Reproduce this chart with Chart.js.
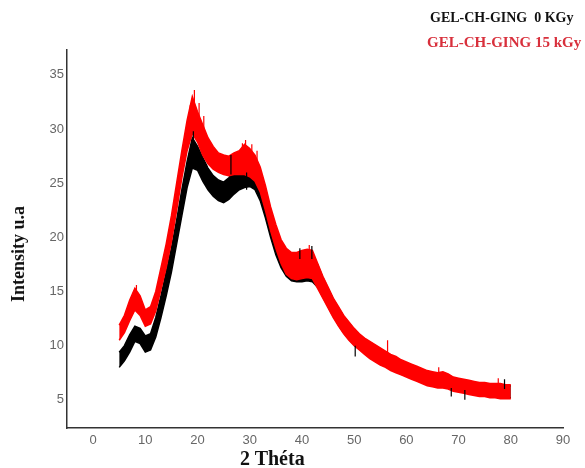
<!DOCTYPE html>
<html>
<head>
<meta charset="utf-8">
<script src="https://cdn.jsdelivr.net/npm/chart.js"></script>
<style>
  body { margin: 0; background: #fff; }
  #wrap { position: relative; width: 585px; height: 468px; overflow: hidden; }
  .txt { position: absolute; font-family: "Liberation Serif", "Times New Roman", serif; font-weight: bold; white-space: nowrap; line-height: 1; }
</style>
</head>
<body>
<div id="wrap">
  <canvas id="xrd" width="585" height="468"></canvas>
  <div class="txt" style="left:430px;top:11px;font-size:14px;color:#111">GEL-CH-GING&nbsp; 0 KGy</div>
  <div class="txt" style="left:427px;top:35px;font-size:15px;color:#d8303c">GEL-CH-GING 15 kGy</div>
  <div class="txt" id="ytitle" style="font-size:18px;color:#111">Intensity u.a</div>
  <div class="txt" style="left:240px;top:448px;font-size:20px;color:#111">2 Théta</div>
</div>
<script>
// 2θ positions (degrees)
const theta = [5,6,7,8,9,10,11,12,13,14,15,16,17,18,19,20,21,22,23,24,25,26,27,28,29,30,
  31,32,33,34,35,36,37,38,39,40,41,42,43,44,45,46,47,48,49,50,51,52,53,54,55,56,57,58,59,60,
  61,62,63,64,65,66,67,68,69,70,71,72,73,74,75,76,77,78,79,80];

// GEL-CH-GING 15 kGy : lower / upper edge of the noisy trace
const red15Low = [10.5,11.2,12.3,13.3,12.8,11.8,12.0,13.2,15.2,17.2,19.6,22.5,25.5,28.0,29.6,28.8,27.6,26.8,26.3,26.0,25.8,
  25.7,25.8,25.8,25.8,25.6,25.2,24.2,22.5,20.6,19.0,17.6,16.6,16.2,16.1,16.2,16.3,16.2,15.3,14.4,13.5,12.6,11.8,11.1,10.5,10.0,
  9.6,9.2,8.8,8.5,8.2,8.0,7.7,7.5,7.3,7.1,6.9,6.7,6.5,6.3,6.2,6.1,6.1,6.0,5.8,5.7,5.6,5.5,5.4,5.3,5.3,5.2,5.2,5.1,5.1,5.1];
const red15High = [11.9,12.8,14.2,15.3,14.6,13.3,13.6,15.0,17.2,19.4,22.0,25.0,28.0,30.8,33.0,31.6,30.4,29.2,28.4,27.8,27.6,
  27.5,27.8,28.0,28.6,28.2,27.6,26.5,24.8,22.8,21.2,19.8,19.0,18.6,18.6,18.8,18.9,18.8,17.6,16.4,15.4,14.4,13.6,12.8,12.2,11.6,
  11.1,10.7,10.4,10.1,9.8,9.5,9.2,9.0,8.7,8.5,8.3,8.1,7.9,7.7,7.6,7.5,7.6,7.4,7.1,7.0,6.9,6.8,6.7,6.6,6.6,6.5,6.5,6.5,6.4,6.4];

// GEL-CH-GING 0 KGy : lower / upper edge
const ref0Low = [8.0,8.6,9.4,10.4,10.2,9.4,9.6,10.8,12.6,14.6,16.8,19.4,22.0,24.6,26.4,26.2,25.2,24.4,23.8,23.4,23.2,
  23.5,24.0,24.4,24.6,24.7,24.4,23.4,21.8,20.0,18.4,17.2,16.4,16.0,15.9,15.9,16.0,15.9,15.4,14.5,13.6,12.7,11.9,11.2,10.6,10.1,
  9.7,9.3,8.9,8.6,8.3,8.1,7.8,7.6,7.4,7.2,7.0,6.8,6.6,6.4,6.3,6.2,6.2,6.1,5.9,5.8,5.7,5.6,5.5,5.4,5.4,5.3,5.3,5.2,5.2,5.2];
const ref0High = [9.4,10.0,11.0,11.8,11.6,10.9,11.1,12.6,14.6,16.8,19.0,21.6,24.4,27.0,29.2,28.4,27.4,26.4,25.7,25.3,25.1,
  25.5,26.1,26.7,27.0,27.1,26.8,25.8,24.1,22.3,20.6,19.4,18.6,18.2,18.2,18.4,18.6,18.5,17.5,16.3,15.3,14.3,13.5,12.7,12.1,11.5,
  11.0,10.6,10.3,10.0,9.7,9.4,9.1,8.9,8.6,8.4,8.2,8.0,7.8,7.6,7.5,7.4,7.5,7.3,7.0,6.9,6.8,6.7,6.6,6.5,6.5,6.4,6.4,6.4,6.3,6.3];

// isolated noise spikes sticking out of the traces
const red15SpikeX    = [8.3, 18.6, 19.4, 20.3, 21.2, 28.6, 29.2, 30.4, 31.4, 41.4, 56.4, 66.2, 77.6];
const red15SpikeLow  = [14.5, 30.0, 31.0, 30.0, 29.0, 27.0, 27.0, 27.0, 26.5, 18.0, 9.0, 7.0, 6.0];
const red15SpikeHigh = [15.6, 32.2, 33.6, 32.4, 31.2, 28.7, 29.0, 28.6, 28.0, 19.3, 10.5, 8.0, 7.0];

const ref0SpikeX    = [19.2, 26.4, 29.4, 39.6, 41.9, 50.2, 68.6, 71.2, 78.8];
const ref0SpikeLow  = [28.0, 25.8, 24.4, 18.0, 18.0, 9.0, 5.3, 5.0, 6.0];
const ref0SpikeHigh = [29.8, 27.6, 26.0, 19.0, 19.2, 10.0, 6.1, 5.9, 6.9];

const xTicks = [0,10,20,30,40,50,60,70,80,90];
const yTicks = [5,10,15,20,25,30,35];

const RED = '#ff0000';
const BLACK = '#000000';

const pts = (arr) => theta.map((t, i) => ({ x: t, y: arr[i] }));

function band(data, color, fill, order){
  return {
    data: pts(data),
    borderColor: color,
    backgroundColor: color,
    borderWidth: 1.5,
    pointRadius: 0,
    tension: 0,
    fill: fill,
    order: order
  };
}

// vertical strokes, one per spike, broken apart by nulls
function spikes(xs, lo, hi, color, order){
  const data = [];
  xs.forEach((x, i) => {
    data.push({ x: x, y: lo[i] }, { x: x, y: hi[i] }, { x: x, y: null });
  });
  return {
    data,
    borderColor: color,
    borderWidth: 1.2,
    pointRadius: 0,
    spanGaps: false,
    fill: false,
    order: order
  };
}

// y title, rotated
const yt = document.getElementById('ytitle');
const w = yt.offsetWidth, h = yt.offsetHeight;
yt.style.left = (18 - w / 2) + 'px';
yt.style.top = (254 - h / 2) + 'px';
yt.style.transform = 'rotate(-90deg)';

const tickFont = { family: 'Liberation Sans, Arial, sans-serif', size: 13 };

new Chart(document.getElementById('xrd'), {
  type: 'line',
  data: {
    datasets: [
      band(red15High, RED, '+1', 2),
      band(red15Low, RED, false, 2),
      band(ref0High, BLACK, '+1', 3),
      band(ref0Low, BLACK, false, 3),
      spikes(red15SpikeX, red15SpikeLow, red15SpikeHigh, RED, 1),
      spikes(ref0SpikeX, ref0SpikeLow, ref0SpikeHigh, BLACK, 0)
    ]
  },
  options: {
    responsive: false,
    animation: false,
    layout: { padding: { left: 0, top: 50, right: 22, bottom: 0 } },
    plugins: { legend: { display: false }, tooltip: { enabled: false } },
    scales: {
      x: {
        type: 'linear',
        min: -5,
        max: 90,
        offset: false,
        afterBuildTicks: (s) => { s.ticks = xTicks.map(v => ({ value: v })); },
        afterFit: (s) => { s.height = 40; },
        grid: { display: false, drawTicks: false },
        border: { display: true, color: '#333', width: 1.5 },
        ticks: { padding: 5, color: '#666', font: tickFont, maxRotation: 0 }
      },
      y: {
        type: 'linear',
        min: 2.4,
        max: 37.3,
        afterBuildTicks: (s) => { s.ticks = yTicks.map(v => ({ value: v })); },
        afterFit: (s) => { s.width = 67; },
        grid: { display: false, drawTicks: false },
        border: { display: true, color: '#333', width: 1.5 },
        ticks: { padding: 3, color: '#666', font: tickFont }
      }
    }
  }
});
</script>
</body>
</html>
